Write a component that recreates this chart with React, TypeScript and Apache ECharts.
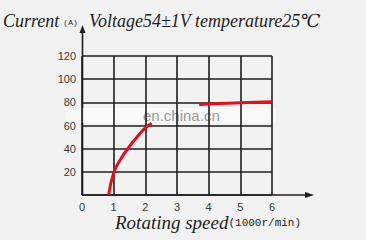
import React, { useEffect, useRef } from "react";
import * as echarts from "echarts";

const xTicks = [0, 1, 2, 3, 4, 5, 6];
const yTicks = [0, 20, 40, 60, 80, 100, 120];
const startupCurve: [number, number][] = [
  [0.84, 0], [1.0, 19], [1.2, 30], [1.5, 42], [1.8, 52], [2.0, 58], [2.2, 62],
];
const steadyCurve: [number, number][] = [
  [3.7, 78], [4.0, 78.6], [5.0, 79.6], [6.0, 80.5],
];

export default function App() {
  const ref = useRef<HTMLDivElement>(null);
  useEffect(() => {
    const chart = echarts.init(ref.current!, undefined, { renderer: "svg" });
    const serif = "'Liberation Serif', 'DejaVu Serif', serif";
    const sans = "'Liberation Sans', Arial, sans-serif";
    const mono = "'Liberation Mono', 'DejaVu Sans Mono', monospace";
    chart.setOption({
      animation: false,
      backgroundColor: "#f2f2f2",
      grid: { left: 82, top: 56, width: 190, height: 139 },
      xAxis: {
        type: "value",
        min: xTicks[0],
        max: xTicks[xTicks.length - 1],
        interval: 1,
        axisLine: { show: false },
        axisTick: { show: false },
        axisLabel: { color: "#3a3a3a", fontSize: 11, fontFamily: sans, margin: 6 },
        splitLine: { show: true, lineStyle: { color: "#1e1e1e", width: 1.6 } },
      },
      yAxis: {
        type: "value",
        min: yTicks[0],
        max: yTicks[yTicks.length - 1],
        interval: 20,
        axisLine: { show: false },
        axisTick: { show: false },
        axisLabel: {
          color: "#3a3a3a",
          fontSize: 11,
          fontFamily: sans,
          margin: 6,
          formatter: (v: number) => (v === 0 ? "" : String(v)),
        },
        splitLine: { show: true, lineStyle: { color: "#1e1e1e", width: 1.6 } },
      },
      series: [
        {
          type: "line",
          data: startupCurve,
          smooth: true,
          symbol: "none",
          lineStyle: { color: "#e0101e", width: 3 },
        },
        {
          type: "line",
          data: steadyCurve,
          smooth: true,
          symbol: "none",
          lineStyle: { color: "#e0101e", width: 3 },
        },
      ],
      graphic: [
        { type: "line", shape: { x1: 82, y1: 195, x2: 308, y2: 195 }, style: { stroke: "#1e1e1e", lineWidth: 1.6 } },
        { type: "polygon", shape: { points: [[314, 195], [305, 192], [305, 198]] }, style: { fill: "#1e1e1e" } },
        { type: "line", shape: { x1: 82.5, y1: 195, x2: 82.5, y2: 31 }, style: { stroke: "#1e1e1e", lineWidth: 1.6 } },
        { type: "polygon", shape: { points: [[82.5, 25], [79.5, 33], [85.5, 33]] }, style: { fill: "#1e1e1e" } },
        {
          type: "rect",
          shape: { x: 66, y: 108, width: 210, height: 15 },
          style: { fill: "rgba(255,255,255,0.55)" },
          silent: true,
        },
        {
          type: "text",
          x: 143,
          y: 115.5,
          style: { text: "en.china.cn", fill: "#9a9a9a", font: `15px ${sans}`, verticalAlign: "middle" },
          silent: true,
        },
        {
          type: "text",
          x: 3,
          y: 21,
          style: {
            text: "{a|Current}{b|(A)}",
            verticalAlign: "middle",
            rich: {
              a: { fontFamily: serif, fontStyle: "italic", fontSize: 18, fill: "#222" },
              b: { fontFamily: mono, fontSize: 8, fill: "#222", padding: [3, 0, 0, 4] },
            },
          },
        },
        {
          type: "text",
          x: 89,
          y: 21,
          style: {
            text: "Voltage54±1V temperature25℃",
            fill: "#222",
            font: `italic 18px ${serif}`,
            verticalAlign: "middle",
          },
        },
        {
          type: "text",
          x: 115,
          y: 222,
          style: {
            text: "{a|Rotating speed}{b|(1000r/min)}",
            verticalAlign: "middle",
            rich: {
              a: { fontFamily: serif, fontStyle: "italic", fontSize: 19, fill: "#222" },
              b: { fontFamily: mono, fontSize: 11, fill: "#222", padding: [2, 0, 0, 0] },
            },
          },
        },
      ],
    });
    return () => chart.dispose();
  }, []);
  return <div ref={ref} style={{ width: 366, height: 240, position: "fixed", left: 0, top: 0 }} />;
}
